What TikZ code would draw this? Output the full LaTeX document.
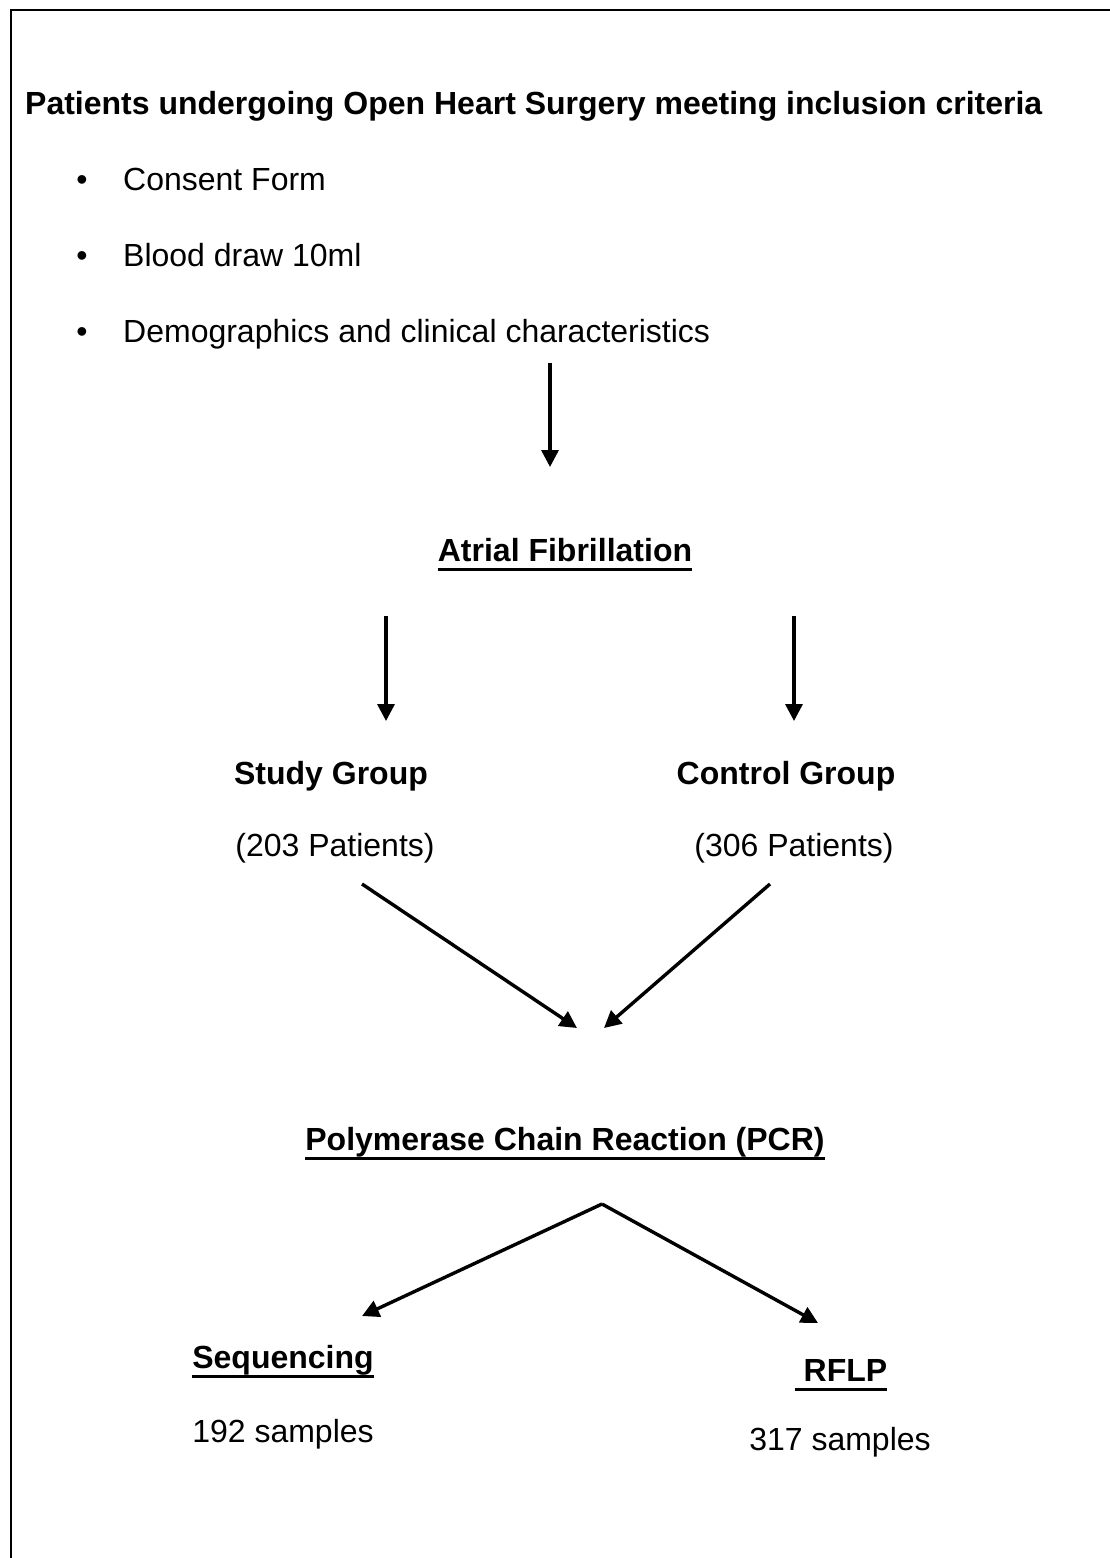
\documentclass[tikz,border=0pt]{standalone}
\usepackage{fontspec}
\setmainfont{Liberation Sans}
\usepackage{tikz}
\usetikzlibrary{arrows.meta}

\begin{document}
\begin{tikzpicture}[x=1pt,y=-1pt,
  every node/.style={inner sep=0pt,anchor=base,font=\fontsize{32}{38}\selectfont},
  hd/.style={font=\fontsize{32}{38}\selectfont\bfseries},
  ul/.style={append after command={([yshift=-8pt]\tikzlastnode.base west) edge[line width=3pt] ([yshift=-8pt]\tikzlastnode.base east)}},
  flow/.style={line width=3.4pt,-{Triangle[length=17pt,width=17pt]}}]
\useasboundingbox (0,0) rectangle (1110,1558);
\draw[line width=2.6pt] (11,1558) -- (11,10) -- (1110,10);
\node[hd,anchor=base west] (title) at (25,114) {Patients undergoing Open Heart Surgery meeting inclusion criteria};
\node (b1) at (82,190) {\textbullet};
\node[anchor=base west] (consent) at (123,190) {Consent Form};
\node (b2) at (82,266) {\textbullet};
\node[anchor=base west] (blood) at (123,266) {Blood draw 10ml};
\node (b3) at (82,342) {\textbullet};
\node[anchor=base west] (demog) at (123,342) {Demographics and clinical characteristics};
\node[hd,ul] (atrial) at (565,561) {Atrial Fibrillation};
\node[hd] (study) at (331,784) {Study Group};
\node[hd] (control) at (786,784) {Control Group};
\node (n203) at (335,856) {(203 Patients)};
\node (n306) at (794,856) {(306 Patients)};
\node[hd,ul] (pcr) at (565,1150) {Polymerase Chain Reaction (PCR)};
\node[hd,ul] (seq) at (283,1368) {Sequencing};
\node[hd,ul] (rflp) at (841,1381) {\ RFLP};
\node (s192) at (283,1442) {192 samples};
\node (s317) at (840,1450) {317 samples};
\coordinate (a1) at (550,363);
\coordinate (a1e) at (550,467);
\coordinate (a2) at (386,616);
\coordinate (a2e) at (386,721);
\coordinate (a3) at (794,616);
\coordinate (a3e) at (794,721);
\coordinate (a4) at (362,884);
\coordinate (a4e) at (577,1028);
\coordinate (a5) at (770,884);
\coordinate (a5e) at (604,1028);
\coordinate (apex) at (602,1204);
\coordinate (a6e) at (362,1316);
\coordinate (a7e) at (818,1323);
\draw[flow] (a1) -- (a1e);
\draw[flow] (a2) -- (a2e);
\draw[flow] (a3) -- (a3e);
\draw[flow] (a4) -- (a4e);
\draw[flow] (a5) -- (a5e);
\draw[flow] (apex) -- (a6e);
\draw[flow] (apex) -- (a7e);
\end{tikzpicture}
\end{document}
